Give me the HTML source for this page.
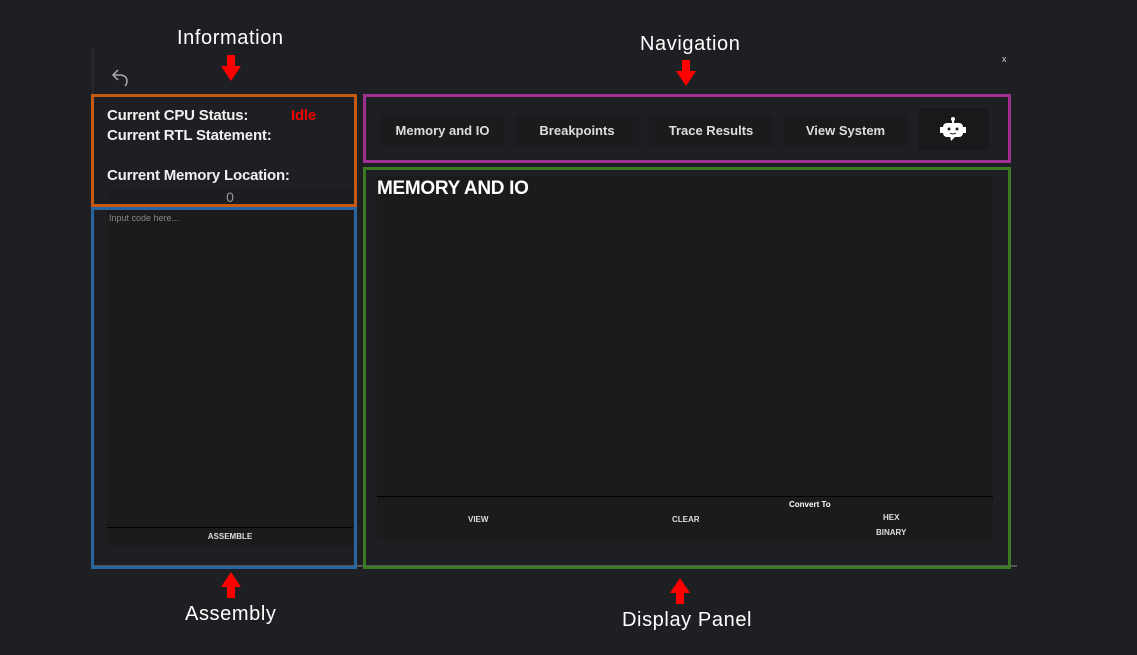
<!DOCTYPE html>
<html><head><style>
body{margin:0;width:1137px;height:655px;background:#1e1f23;position:relative;overflow:hidden;font-family:"Liberation Sans",sans-serif;color:#e8e8e8}
div,span{position:absolute;box-sizing:border-box}
.lbl{font-size:20px;color:#fff;white-space:nowrap;letter-spacing:0.6px}
.box{border:3px solid}
.btn{background:#1a1b1d;border-radius:4px;font-size:13px;font-weight:bold;color:#ddd;text-align:center;line-height:33px;top:114px;height:33px}
.t{font-size:15px;font-weight:bold;color:#f0f0f0;white-space:nowrap;letter-spacing:-0.2px}
.s{font-size:8px;font-weight:bold;color:#ddd;white-space:nowrap}
</style></head><body>
<div class="lbl" style="left:177px;top:27px">Information</div>
<div class="lbl" style="left:640px;top:33px">Navigation</div>
<div class="lbl" style="left:185px;top:603px">Assembly</div>
<div class="lbl" style="left:622px;top:609px">Display Panel</div>
<svg style="position:absolute;left:0;top:0" width="1137" height="655">
<g fill="#f00">
<polygon points="227,55 235,55 235,66 241,66 231,81 221,66 227,66"/>
<polygon points="682,60 690,60 690,71 696,71 686,86 676,71 682,71"/>
<polygon points="227,598 235,598 235,587 241,587 231,572 221,587 227,587"/>
<polygon points="676,604 684,604 684,593 690,593 680,578 670,593 676,593"/>
</g>
<line x1="93" y1="47" x2="93" y2="94" stroke="#333" stroke-width="1"/>
<line x1="93" y1="566" x2="1017" y2="566" stroke="#555" stroke-width="2"/>
<path d="M118 70 L113 75 L118 80 M113 75 L121 75 Q127 76 127 81 Q127 84 125 86" fill="none" stroke="#aaa" stroke-width="1.5"/>
</svg>
<div style="left:1002px;top:54px;font-size:9px;color:#ccc">x</div>
<div class="box" style="left:91px;top:94px;width:266px;height:113px;border-color:#c55a11"></div>
<div class="t" style="left:107px;top:107px">Current CPU Status:</div>
<div class="t" style="left:291px;top:107px;color:#e00">Idle</div>
<div class="t" style="left:107px;top:127px">Current RTL Statement:</div>
<div class="t" style="left:107px;top:167px">Current Memory Location:</div>
<div style="left:107px;top:187px;width:246px;height:17px;background:#1c1d20;text-align:center;font-size:14px;color:#999;line-height:20px">0</div>
<div class="box" style="left:91px;top:207px;width:266px;height:362px;border-color:#2a65a3"></div>
<div style="left:107px;top:210px;width:246px;height:336px;background:#1b1b1c"></div>
<div style="left:107px;top:527px;width:246px;height:1px;background:#000"></div>
<div style="left:109px;top:213px;font-size:9px;color:#888">Input code here...</div>
<div class="s" style="left:107px;top:532px;width:246px;text-align:center">ASSEMBLE</div>
<div class="box" style="left:363px;top:94px;width:648px;height:69px;border-color:#a0308f"></div>
<div class="btn" style="left:380px;width:125px">Memory and IO</div>
<div class="btn" style="left:515px;width:124px">Breakpoints</div>
<div class="btn" style="left:649px;width:124px">Trace Results</div>
<div class="btn" style="left:783px;width:125px">View System</div>
<div style="left:918px;top:108px;width:71px;height:43px;background:#18191b;border-radius:4px"></div>
<svg style="position:absolute;left:938px;top:116px" width="30" height="28"><line x1="15" y1="2" x2="15" y2="7" stroke="#fff" stroke-width="2"/><circle cx="15" cy="3" r="2" fill="#fff"/><rect x="5" y="7" width="20" height="14" rx="4" fill="#fff"/><rect x="2" y="11" width="3" height="6" fill="#fff"/><rect x="25" y="11" width="3" height="6" fill="#fff"/><polygon points="12,20 18,20 13,25" fill="#fff"/><circle cx="11" cy="13" r="1.5" fill="#222"/><circle cx="19" cy="13" r="1.5" fill="#222"/><path d="M12 17 Q15 19 18 17" stroke="#222" fill="none"/></svg>
<div class="box" style="left:363px;top:167px;width:648px;height:402px;border-color:#3d7a26"></div>
<div style="left:377px;top:176px;width:616px;height:364px;background:#1b1b1c"></div>
<div style="left:377px;top:496px;width:616px;height:1px;background:#000"></div>
<div style="left:377px;top:178px;font-size:19px;font-weight:bold;color:#fff;letter-spacing:-0.3px">MEMORY AND IO</div>
<div class="s" style="left:468px;top:515px">VIEW</div>
<div class="s" style="left:672px;top:515px">CLEAR</div>
<div class="s" style="left:789px;top:500px;color:#fff">Convert To</div>
<div class="s" style="left:883px;top:513px">HEX</div>
<div class="s" style="left:876px;top:528px">BINARY</div>
</body></html>
